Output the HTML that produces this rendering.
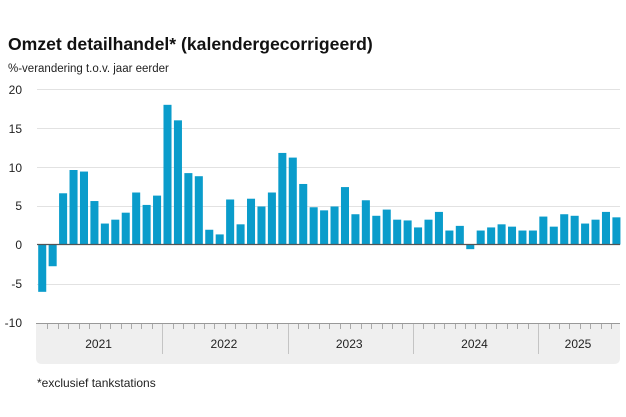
<!DOCTYPE html>
<html><head><meta charset="utf-8"><style>
body{margin:0;background:#fff;}
svg{display:block;font-family:"Liberation Sans",sans-serif;}
</style></head><body>
<svg width="626" height="417" xmlns="http://www.w3.org/2000/svg">
<text x="8" y="50" font-size="17.6" font-weight="bold" fill="#111">Omzet detailhandel* (kalendergecorrigeerd)</text>
<text x="8" y="72" font-size="11.5" fill="#222">%-verandering t.o.v. jaar eerder</text>
<g font-size="12" fill="#222" text-anchor="end">
<text x="22" y="94">20</text><text x="22" y="133">15</text><text x="22" y="172">10</text>
<text x="22" y="210">5</text><text x="22" y="249">0</text><text x="22" y="288">-5</text><text x="22" y="327">-10</text>
</g>
<g stroke="#e2e2e2" stroke-width="1">
<line x1="37" x2="620" y1="89.5" y2="89.5"/><line x1="37" x2="620" y1="128.5" y2="128.5"/>
<line x1="37" x2="620" y1="167.5" y2="167.5"/><line x1="37" x2="620" y1="206.5" y2="206.5"/>
<line x1="37" x2="620" y1="284.5" y2="284.5"/>
</g>
<path d="M36 323 H620 V358 Q620 364 614 364 H42 Q36 364 36 358 Z" fill="#efefef"/>
<line x1="36" x2="620" y1="323.5" y2="323.5" stroke="#999"/>
<g id="bars" fill="#0a9ccb"></g>
<line x1="37" x2="620" y1="244.5" y2="244.5" stroke="#555" stroke-width="1.2"/>
<g id="ticks" stroke="#aaa" stroke-width="1"></g>
<g font-size="12" fill="#222" text-anchor="middle">
<text x="98.6" y="348">2021</text><text x="223.9" y="348">2022</text><text x="349.2" y="348">2023</text>
<text x="474.5" y="348">2024</text><text x="578" y="348">2025</text>
</g>
<text x="37" y="387" font-size="12" fill="#222">*exclusief tankstations</text>
<script>
var v=[-6.1,-2.8,6.6,9.6,9.4,5.6,2.7,3.2,4.1,6.7,5.1,6.3,
18,16,9.2,8.8,1.9,1.3,5.8,2.6,5.9,4.9,6.7,11.8,
11.2,7.8,4.8,4.4,4.9,7.4,3.9,5.7,3.7,4.5,3.2,3.1,
2.2,3.2,4.2,1.8,2.4,-0.6,1.8,2.2,2.6,2.3,1.8,1.8,
3.6,2.3,3.9,3.7,2.7,3.2,4.2,3.5];
var ns="http://www.w3.org/2000/svg",g=document.getElementById('bars'),t=document.getElementById('ticks');
var x0=37,w=10.44,y0=244.5,s=7.76;
v.forEach(function(d,i){var r=document.createElementNS(ns,'rect');
var h=Math.abs(d)*s;r.setAttribute('x',x0+i*w+1.2);r.setAttribute('width',w-2.4);
r.setAttribute('y',d>=0?y0-h:y0);r.setAttribute('height',h);g.appendChild(r);});
for(var i=1;i<56;i++){var l=document.createElementNS(ns,'line');var x=Math.round(x0+i*w)+0.5;
l.setAttribute('x1',x);l.setAttribute('x2',x);l.setAttribute('y1',324);l.setAttribute('y2',i%12==0?354:329);
if(i%12==0)l.setAttribute('stroke','#c4c4c4');t.appendChild(l);}
</script>
</svg>
</body></html>
